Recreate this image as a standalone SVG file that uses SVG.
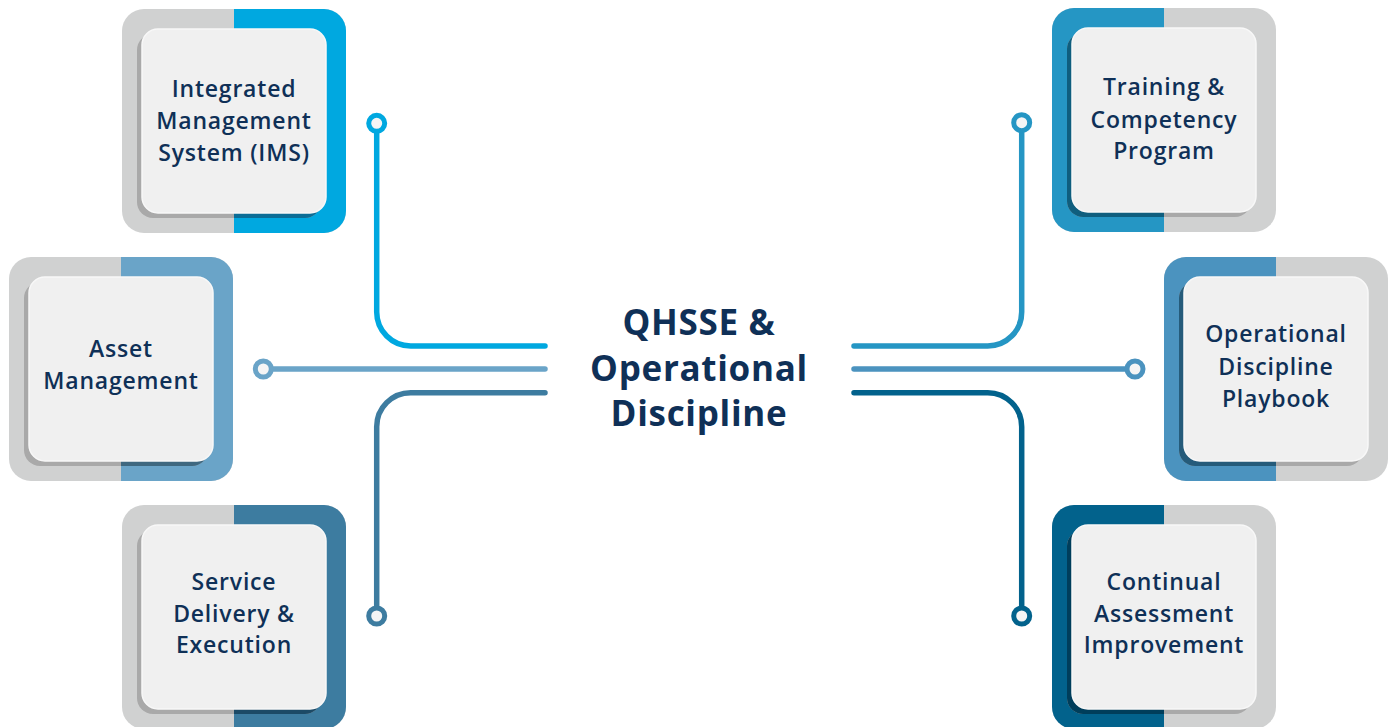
<svg xmlns="http://www.w3.org/2000/svg" width="1392" height="727" viewBox="0 0 1392 727">
<style>
.gray{fill:#d0d1d1}
.gsh{fill:#a9a9a9}
.card{fill:#f0f0f0;stroke:#f8f8f8;stroke-width:1.5}
.lbl{font-family:"Open Sans","Liberation Sans",sans-serif;font-weight:600;font-size:23px;letter-spacing:0.8px;fill:#0f3057;text-anchor:middle}
.title{font-family:"Open Sans","Liberation Sans",sans-serif;font-weight:700;font-size:35px;letter-spacing:0.7px;fill:#0f3057;text-anchor:middle}
.con{fill:none;stroke-width:5.5;stroke-linecap:round}
.dot{fill:#f5f5f5;stroke-width:5}
</style>
<defs>
<clipPath id="oc"><rect x="0" y="0" width="224" height="224" rx="22"/></clipPath>
<clipPath id="sc"><rect x="15" y="25" width="184" height="184" rx="16"/></clipPath>
</defs>
<rect width="1392" height="727" fill="#ffffff"/>

<g id="connectors">
<path class="con" stroke="#00a8e0" d="M376.7,123.3 V312 A34,34 0 0 0 410.7,346 H545"/>
<path class="con" stroke="#6aa4c8" d="M263.3,369 H545"/>
<path class="con" stroke="#3d7ca0" d="M376.7,616 V426.7 A34,34 0 0 1 410.7,392.7 H545"/>
<path class="con" stroke="#2596c4" d="M854,346 H987.7 A34,34 0 0 0 1021.7,312 V122.7"/>
<path class="con" stroke="#4b93bf" d="M854,369 H1135"/>
<path class="con" stroke="#02628c" d="M854,392.7 H987.7 A34,34 0 0 1 1021.7,426.7 V616"/>
<circle class="dot" stroke="#00a8e0" cx="376.7" cy="123.3" r="8"/>
<circle class="dot" stroke="#6aa4c8" cx="263.3" cy="369" r="8"/>
<circle class="dot" stroke="#3d7ca0" cx="376.7" cy="616" r="8"/>
<circle class="dot" stroke="#2596c4" cx="1021.7" cy="122.7" r="8"/>
<circle class="dot" stroke="#4b93bf" cx="1135" cy="369" r="8"/>
<circle class="dot" stroke="#02628c" cx="1021.7" cy="616" r="8"/>
</g>

<g id="center">
<text class="title" x="699" y="335">QHSSE &amp;</text>
<text class="title" x="699" y="381">Operational</text>
<text class="title" x="699" y="426">Discipline</text>
</g>

<g id="ims" transform="translate(122,9)">
<rect class="gray" width="224" height="224" rx="22"/>
<rect x="112" y="0" width="112" height="224" fill="#00a8e0" clip-path="url(#oc)"/>
<rect class="gsh" x="15" y="25" width="184" height="184" rx="16"/>
<rect x="112" y="25" width="100" height="184" fill="#0b6d96" clip-path="url(#sc)"/>
<rect class="card" x="20" y="20" width="184" height="184" rx="16"/>
<text class="lbl" x="112" y="88">Integrated</text>
<text class="lbl" x="112" y="120">Management</text>
<text class="lbl" x="112" y="152">System (IMS)</text>
</g>

<g id="asset" transform="translate(9,257)">
<rect class="gray" width="224" height="224" rx="22"/>
<rect x="112" y="0" width="112" height="224" fill="#6aa4c8" clip-path="url(#oc)"/>
<rect class="gsh" x="15" y="25" width="184" height="184" rx="16"/>
<rect x="112" y="25" width="100" height="184" fill="#3f6880" clip-path="url(#sc)"/>
<rect class="card" x="20" y="20" width="184" height="184" rx="16"/>
<text class="lbl" x="112" y="100">Asset</text>
<text class="lbl" x="112" y="132">Management</text>
</g>

<g id="service" transform="translate(122,505)">
<rect class="gray" width="224" height="224" rx="22"/>
<rect x="112" y="0" width="112" height="224" fill="#3d7ca0" clip-path="url(#oc)"/>
<rect class="gsh" x="15" y="25" width="184" height="184" rx="16"/>
<rect x="112" y="25" width="100" height="184" fill="#1c4a66" clip-path="url(#sc)"/>
<rect class="card" x="20" y="20" width="184" height="184" rx="16"/>
<text class="lbl" x="112" y="85">Service</text>
<text class="lbl" x="112" y="117">Delivery &amp;</text>
<text class="lbl" x="112" y="148">Execution</text>
</g>

<g id="training" transform="translate(1052,8)">
<rect class="gray" width="224" height="224" rx="22"/>
<rect x="0" y="0" width="112" height="224" fill="#2596c4" clip-path="url(#oc)"/>
<rect class="gsh" x="15" y="25" width="184" height="184" rx="16"/>
<rect x="0" y="25" width="112" height="184" fill="#0f5e7e" clip-path="url(#sc)"/>
<rect class="card" x="20" y="20" width="184" height="184" rx="16"/>
<text class="lbl" x="112" y="87">Training &amp;</text>
<text class="lbl" x="112" y="120">Competency</text>
<text class="lbl" x="112" y="151">Program</text>
</g>

<g id="playbook" transform="translate(1164,257)">
<rect class="gray" width="224" height="224" rx="22"/>
<rect x="0" y="0" width="112" height="224" fill="#4b93bf" clip-path="url(#oc)"/>
<rect class="gsh" x="15" y="25" width="184" height="184" rx="16"/>
<rect x="0" y="25" width="112" height="184" fill="#255b7a" clip-path="url(#sc)"/>
<rect class="card" x="20" y="20" width="184" height="184" rx="16"/>
<text class="lbl" x="112" y="85">Operational</text>
<text class="lbl" x="112" y="118">Discipline</text>
<text class="lbl" x="112" y="150">Playbook</text>
</g>

<g id="continual" transform="translate(1052,505)">
<rect class="gray" width="224" height="224" rx="22"/>
<rect x="0" y="0" width="112" height="224" fill="#02628c" clip-path="url(#oc)"/>
<rect class="gsh" x="15" y="25" width="184" height="184" rx="16"/>
<rect x="0" y="25" width="112" height="184" fill="#003e5b" clip-path="url(#sc)"/>
<rect class="card" x="20" y="20" width="184" height="184" rx="16"/>
<text class="lbl" x="112" y="85">Continual</text>
<text class="lbl" x="112" y="117">Assessment</text>
<text class="lbl" x="112" y="148">Improvement</text>
</g>
</svg>
